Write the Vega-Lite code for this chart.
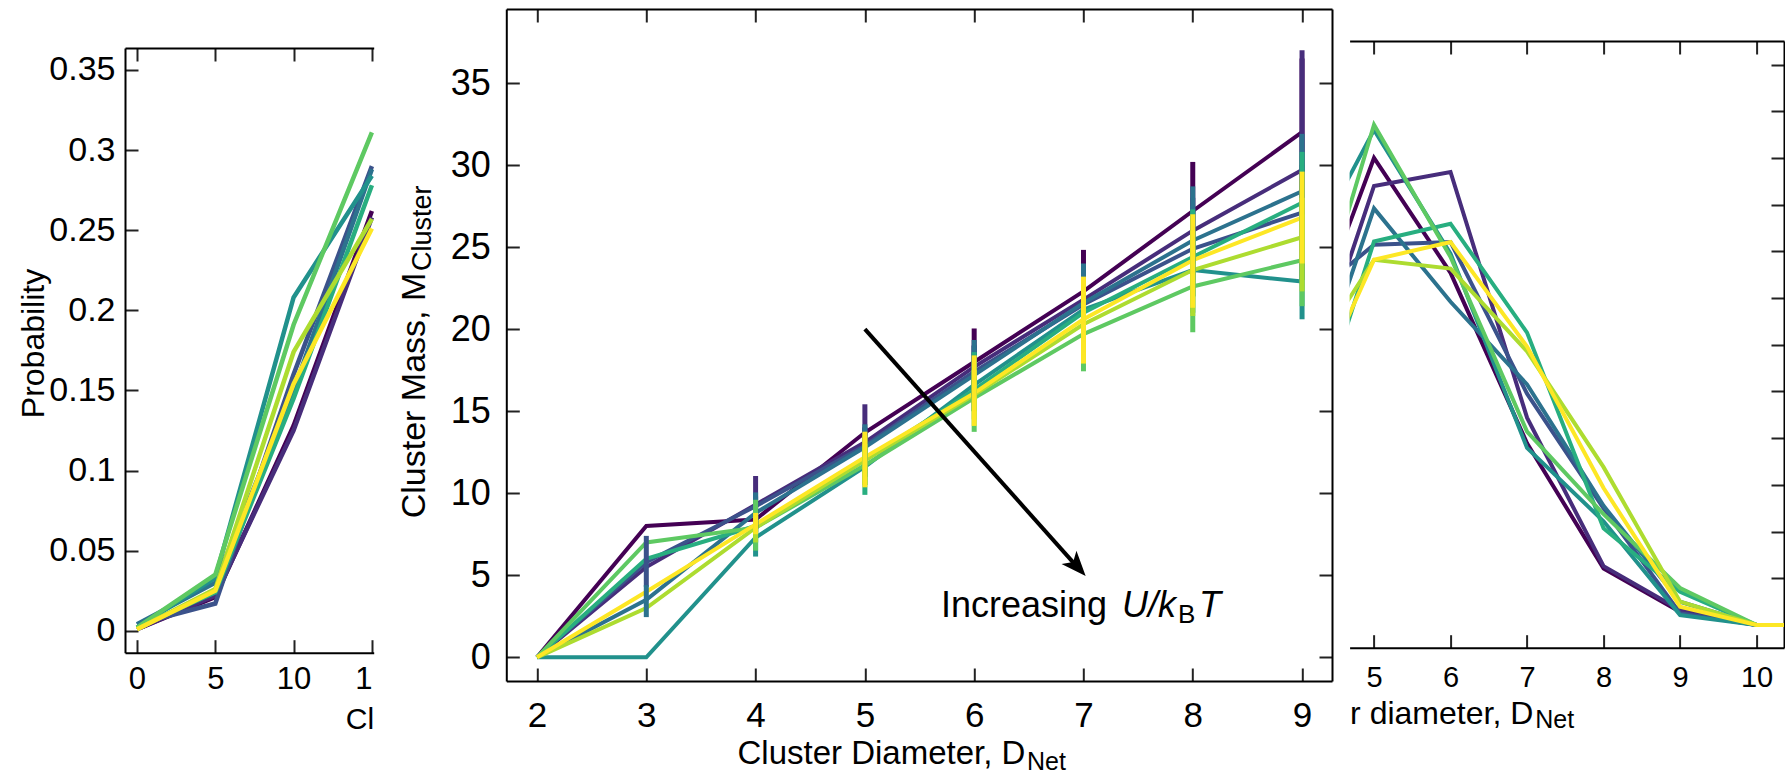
{
  "$schema": "https://vega.github.io/schema/vega-lite/v6.json",
  "padding": {"left": 17, "top": 8, "right": 0, "bottom": 0},
  "spacing": 16.3,
  "config": {
    "view": {"stroke": null},
    "font": "Liberation Sans",
    "axis": {
      "domainColor": "black", "domainWidth": 2, "tickColor": "#222", "tickWidth": 2, "tickSize": -13,
      "labelFont": "Liberation Sans", "titleFont": "Liberation Sans", "labelColor": "black", "titleColor": "black",
      "titleFontWeight": "normal", "labelFlush": false, "labelOverlap": false, "grid": false
    }
  },
  "datasets": {
    "left": [
      {"run": "U1", "x": 0, "p": 0.001}, {"run": "U1", "x": 5, "p": 0.021}, {"run": "U1", "x": 10, "p": 0.128}, {"run": "U1", "x": 15, "p": 0.262},
      {"run": "U2", "x": 0, "p": 0.001}, {"run": "U2", "x": 5, "p": 0.022}, {"run": "U2", "x": 10, "p": 0.125}, {"run": "U2", "x": 15, "p": 0.258},
      {"run": "U3", "x": 0, "p": 0.004}, {"run": "U3", "x": 5, "p": 0.017}, {"run": "U3", "x": 10, "p": 0.160}, {"run": "U3", "x": 15, "p": 0.290},
      {"run": "U4", "x": 0, "p": 0.004}, {"run": "U4", "x": 5, "p": 0.030}, {"run": "U4", "x": 10, "p": 0.150}, {"run": "U4", "x": 15, "p": 0.288},
      {"run": "U5", "x": 0, "p": 0.002}, {"run": "U5", "x": 5, "p": 0.033}, {"run": "U5", "x": 10, "p": 0.208}, {"run": "U5", "x": 15, "p": 0.284},
      {"run": "U6", "x": 0, "p": 0.002}, {"run": "U6", "x": 5, "p": 0.024}, {"run": "U6", "x": 10, "p": 0.145}, {"run": "U6", "x": 15, "p": 0.278},
      {"run": "U7", "x": 0, "p": 0.002}, {"run": "U7", "x": 5, "p": 0.035}, {"run": "U7", "x": 10, "p": 0.191}, {"run": "U7", "x": 15, "p": 0.311},
      {"run": "U8", "x": 0, "p": 0.001}, {"run": "U8", "x": 5, "p": 0.026}, {"run": "U8", "x": 10, "p": 0.174}, {"run": "U8", "x": 15, "p": 0.257},
      {"run": "U9", "x": 0, "p": 0.001}, {"run": "U9", "x": 5, "p": 0.025}, {"run": "U9", "x": 10, "p": 0.154}, {"run": "U9", "x": 15, "p": 0.251}
    ],
    "mid": [
      {"run": "U1", "d": 2, "m": 0, "lo": 0, "hi": 0}, {"run": "U1", "d": 3, "m": 8.0, "lo": 8.0, "hi": 8.0}, {"run": "U1", "d": 4, "m": 8.4, "lo": 7.8, "hi": 9.0}, {"run": "U1", "d": 5, "m": 13.7, "lo": 12, "hi": 14}, {"run": "U1", "d": 6, "m": 18.0, "lo": 16, "hi": 20.04}, {"run": "U1", "d": 7, "m": 22.3, "lo": 20, "hi": 24.83}, {"run": "U1", "d": 8, "m": 27.2, "lo": 24, "hi": 30.19}, {"run": "U1", "d": 9, "m": 32.0, "lo": 28, "hi": 36.5},
      {"run": "U2", "d": 2, "m": 0, "lo": 0, "hi": 0}, {"run": "U2", "d": 3, "m": 5.5, "lo": 5.5, "hi": 5.5}, {"run": "U2", "d": 4, "m": 9.3, "lo": 7.6, "hi": 11.05}, {"run": "U2", "d": 5, "m": 13.1, "lo": 11, "hi": 15.42}, {"run": "U2", "d": 6, "m": 17.7, "lo": 16, "hi": 19}, {"run": "U2", "d": 7, "m": 21.8, "lo": 20, "hi": 23.5}, {"run": "U2", "d": 8, "m": 26.0, "lo": 23, "hi": 28}, {"run": "U2", "d": 9, "m": 29.7, "lo": 23, "hi": 37.0},
      {"run": "U3", "d": 2, "m": 0, "lo": 0, "hi": 0}, {"run": "U3", "d": 3, "m": 5.8, "lo": 4.3, "hi": 7.4}, {"run": "U3", "d": 4, "m": 9.2, "lo": 7.8, "hi": 9.8}, {"run": "U3", "d": 5, "m": 12.9, "lo": 11, "hi": 14}, {"run": "U3", "d": 6, "m": 17.4, "lo": 15.5, "hi": 19}, {"run": "U3", "d": 7, "m": 21.5, "lo": 19.5, "hi": 23.5}, {"run": "U3", "d": 8, "m": 24.9, "lo": 22, "hi": 27.5}, {"run": "U3", "d": 9, "m": 27.1, "lo": 23, "hi": 30},
      {"run": "U4", "d": 2, "m": 0, "lo": 0, "hi": 0}, {"run": "U4", "d": 3, "m": 3.5, "lo": 2.45, "hi": 4.4}, {"run": "U4", "d": 4, "m": 8.8, "lo": 7.6, "hi": 10.05}, {"run": "U4", "d": 5, "m": 12.8, "lo": 11, "hi": 14.2}, {"run": "U4", "d": 6, "m": 17.2, "lo": 15, "hi": 19.34}, {"run": "U4", "d": 7, "m": 21.6, "lo": 19, "hi": 24.0}, {"run": "U4", "d": 8, "m": 25.4, "lo": 22, "hi": 28.7}, {"run": "U4", "d": 9, "m": 28.4, "lo": 25, "hi": 31.9},
      {"run": "U5", "d": 2, "m": 0, "lo": 0, "hi": 0}, {"run": "U5", "d": 3, "m": 0, "lo": 0, "hi": 0}, {"run": "U5", "d": 4, "m": 7.3, "lo": 6.14, "hi": 9.0}, {"run": "U5", "d": 5, "m": 11.6, "lo": 10.5, "hi": 13}, {"run": "U5", "d": 6, "m": 16.6, "lo": 15, "hi": 18}, {"run": "U5", "d": 7, "m": 21.2, "lo": 19, "hi": 23}, {"run": "U5", "d": 8, "m": 23.6, "lo": 21, "hi": 26}, {"run": "U5", "d": 9, "m": 22.9, "lo": 20.6, "hi": 25},
      {"run": "U6", "d": 2, "m": 0, "lo": 0, "hi": 0}, {"run": "U6", "d": 3, "m": 6.0, "lo": 6.0, "hi": 6.0}, {"run": "U6", "d": 4, "m": 8.0, "lo": 7, "hi": 9}, {"run": "U6", "d": 5, "m": 12.0, "lo": 9.9, "hi": 13}, {"run": "U6", "d": 6, "m": 16.3, "lo": 15, "hi": 18.6}, {"run": "U6", "d": 7, "m": 21.0, "lo": 19, "hi": 23}, {"run": "U6", "d": 8, "m": 24.4, "lo": 22, "hi": 27.3}, {"run": "U6", "d": 9, "m": 27.7, "lo": 25, "hi": 30.8},
      {"run": "U7", "d": 2, "m": 0, "lo": 0, "hi": 0}, {"run": "U7", "d": 3, "m": 7.0, "lo": 7.0, "hi": 7.0}, {"run": "U7", "d": 4, "m": 7.9, "lo": 6.5, "hi": 9.6}, {"run": "U7", "d": 5, "m": 11.7, "lo": 10.5, "hi": 13}, {"run": "U7", "d": 6, "m": 15.8, "lo": 13.74, "hi": 17.5}, {"run": "U7", "d": 7, "m": 19.7, "lo": 17.43, "hi": 22}, {"run": "U7", "d": 8, "m": 22.6, "lo": 19.81, "hi": 25.5}, {"run": "U7", "d": 9, "m": 24.2, "lo": 21.4, "hi": 27},
      {"run": "U8", "d": 2, "m": 0, "lo": 0, "hi": 0}, {"run": "U8", "d": 3, "m": 3.0, "lo": 3.0, "hi": 3.0}, {"run": "U8", "d": 4, "m": 7.9, "lo": 7.0, "hi": 8.6}, {"run": "U8", "d": 5, "m": 12.0, "lo": 10.5, "hi": 13.5}, {"run": "U8", "d": 6, "m": 16.0, "lo": 14.5, "hi": 17.5}, {"run": "U8", "d": 7, "m": 20.3, "lo": 18.5, "hi": 22.5}, {"run": "U8", "d": 8, "m": 23.6, "lo": 20.8, "hi": 26}, {"run": "U8", "d": 9, "m": 25.6, "lo": 22.3, "hi": 28},
      {"run": "U9", "d": 2, "m": 0, "lo": 0, "hi": 0}, {"run": "U9", "d": 3, "m": 4.0, "lo": 4.0, "hi": 4.0}, {"run": "U9", "d": 4, "m": 8.1, "lo": 7.5, "hi": 8.8}, {"run": "U9", "d": 5, "m": 12.2, "lo": 10.36, "hi": 13.75}, {"run": "U9", "d": 6, "m": 16.1, "lo": 14.1, "hi": 18.4}, {"run": "U9", "d": 7, "m": 20.6, "lo": 17.9, "hi": 23.2}, {"run": "U9", "d": 8, "m": 24.2, "lo": 21.3, "hi": 27.0}, {"run": "U9", "d": 9, "m": 26.8, "lo": 24.0, "hi": 29.6}
    ],
    "right": [
      {"run": "U1", "d": 4, "p": 0.14}, {"run": "U1", "d": 5, "p": 0.250}, {"run": "U1", "d": 6, "p": 0.1885}, {"run": "U1", "d": 7, "p": 0.0973}, {"run": "U1", "d": 8, "p": 0.0303}, {"run": "U1", "d": 9, "p": 0.007}, {"run": "U1", "d": 10, "p": 0}, {"run": "U1", "d": 11, "p": 0},
      {"run": "U2", "d": 4, "p": 0.1125}, {"run": "U2", "d": 5, "p": 0.235}, {"run": "U2", "d": 6, "p": 0.2425}, {"run": "U2", "d": 7, "p": 0.111}, {"run": "U2", "d": 8, "p": 0.0315}, {"run": "U2", "d": 9, "p": 0.008}, {"run": "U2", "d": 10, "p": 0}, {"run": "U2", "d": 11, "p": 0},
      {"run": "U3", "d": 4, "p": 0.17}, {"run": "U3", "d": 5, "p": 0.2035}, {"run": "U3", "d": 6, "p": 0.205}, {"run": "U3", "d": 7, "p": 0.1238}, {"run": "U3", "d": 8, "p": 0.0625}, {"run": "U3", "d": 9, "p": 0.0063}, {"run": "U3", "d": 10, "p": 0}, {"run": "U3", "d": 11, "p": 0},
      {"run": "U4", "d": 4, "p": 0.1025}, {"run": "U4", "d": 5, "p": 0.223}, {"run": "U4", "d": 6, "p": 0.173}, {"run": "U4", "d": 7, "p": 0.1288}, {"run": "U4", "d": 8, "p": 0.0638}, {"run": "U4", "d": 9, "p": 0.0125}, {"run": "U4", "d": 10, "p": 0}, {"run": "U4", "d": 11, "p": 0},
      {"run": "U5", "d": 4, "p": 0.1875}, {"run": "U5", "d": 5, "p": 0.265}, {"run": "U5", "d": 6, "p": 0.1988}, {"run": "U5", "d": 7, "p": 0.0948}, {"run": "U5", "d": 8, "p": 0.0555}, {"run": "U5", "d": 9, "p": 0.0053}, {"run": "U5", "d": 10, "p": 0}, {"run": "U5", "d": 11, "p": 0},
      {"run": "U6", "d": 4, "p": 0.0775}, {"run": "U6", "d": 5, "p": 0.2053}, {"run": "U6", "d": 6, "p": 0.2148}, {"run": "U6", "d": 7, "p": 0.1565}, {"run": "U6", "d": 8, "p": 0.0518}, {"run": "U6", "d": 9, "p": 0.0178}, {"run": "U6", "d": 10, "p": 0}, {"run": "U6", "d": 11, "p": 0},
      {"run": "U7", "d": 4, "p": 0.13}, {"run": "U7", "d": 5, "p": 0.2678}, {"run": "U7", "d": 6, "p": 0.197}, {"run": "U7", "d": 7, "p": 0.1035}, {"run": "U7", "d": 8, "p": 0.0593}, {"run": "U7", "d": 9, "p": 0.0198}, {"run": "U7", "d": 10, "p": 0}, {"run": "U7", "d": 11, "p": 0},
      {"run": "U8", "d": 4, "p": 0.1315}, {"run": "U8", "d": 5, "p": 0.1955}, {"run": "U8", "d": 6, "p": 0.1908}, {"run": "U8", "d": 7, "p": 0.1465}, {"run": "U8", "d": 8, "p": 0.0845}, {"run": "U8", "d": 9, "p": 0.0125}, {"run": "U8", "d": 10, "p": 0}, {"run": "U8", "d": 11, "p": 0},
      {"run": "U9", "d": 4, "p": 0.105}, {"run": "U9", "d": 5, "p": 0.1955}, {"run": "U9", "d": 6, "p": 0.205}, {"run": "U9", "d": 7, "p": 0.149}, {"run": "U9", "d": 8, "p": 0.0733}, {"run": "U9", "d": 9, "p": 0.0098}, {"run": "U9", "d": 10, "p": 0}, {"run": "U9", "d": 11, "p": 0}
    ]
  },
  "hconcat": [
    {
      "width": 255.3,
      "height": 643.7,
      "data": {"name": "left"},
      "layer": [
        {
          "mark": {"type": "line", "strokeWidth": 4.5, "strokeJoin": "miter", "clip": true},
          "encoding": {
            "x": {"field": "x", "type": "quantitative",
              "scale": {"domain": [-0.766, 15.115], "range": [0, 248.7], "nice": false, "zero": false},
              "axis": {"orient": "bottom", "values": [0, 5, 10, 15], "labelFontSize": 31, "labelPadding": 25,
                "labelExpr": "datum.value == 15 ? '1' : datum.label",
                "labelAlign": {"condition": {"test": "datum.value == 15", "value": "right"}, "value": "center"},
                "title": "Cl", "titleFontSize": 30, "titleAlign": "right", "titleBaseline": "alphabetic", "titleX": 248.7, "titleY": 75.6}},
            "y": {"field": "p", "type": "quantitative",
              "scale": {"domain": [-0.0137, 0.3637], "range": [643.7, 39], "nice": false, "zero": false},
              "axis": {"orient": "left", "values": [0, 0.05, 0.1, 0.15, 0.2, 0.25, 0.3, 0.35], "format": "~g",
                "labelFontSize": 34, "labelPadding": 23, "title": "Probability", "titleFontSize": 32,
                "titleBaseline": "alphabetic", "titleX": -81.5, "titleY": 334}},
            "color": {"field": "run", "type": "nominal",
              "scale": {"domain": ["U1", "U2", "U3", "U4", "U5", "U6", "U7", "U8", "U9"],
                "range": ["#440154", "#472d7b", "#3b528b", "#2c728e", "#21918c", "#28ae80", "#5ec962", "#addc30", "#fde725"]},
              "legend": null}
          }
        },
        {
          "mark": {"type": "line", "opacity": 0, "clip": true},
          "encoding": {
            "x": {"field": "x", "type": "quantitative", "axis": {"orient": "top", "values": [0, 5, 10, 15], "labels": false, "title": null, "offset": -39}},
            "y": {"field": "p", "type": "quantitative", "axis": null},
            "detail": {"field": "run"}
          }
        }
      ],
      "resolve": {"axis": {"x": "independent", "y": "independent"}}
    },
    {
      "width": 825.7,
      "height": 672,
      "data": {"name": "mid"},
      "layer": [
        {
          "mark": {"type": "line", "strokeWidth": 4, "strokeJoin": "miter"},
          "encoding": {
            "x": {"field": "d", "type": "quantitative",
              "scale": {"domain": [1.719, 9.274], "nice": false, "zero": false},
              "axis": {"orient": "bottom", "values": [2, 3, 4, 5, 6, 7, 8, 9], "labelFontSize": 35, "labelPadding": 30,
                "title": "Cluster Diameter, D", "titleFontSize": 33, "titleAlign": "left", "titleBaseline": "alphabetic", "titleX": 230.7, "titleY": 82}},
            "y": {"field": "m", "type": "quantitative",
              "scale": {"domain": [-1.444, 39.51], "nice": false, "zero": false},
              "axis": {"orient": "left", "values": [0, 5, 10, 15, 20, 25, 30, 35], "labelFontSize": 36, "labelPadding": 29,
                "title": "Cluster Mass, M", "titleFontSize": 34, "titleBaseline": "alphabetic", "titleX": -81.5, "titleY": 386}},
            "color": {"field": "run", "type": "nominal",
              "scale": {"domain": ["U1", "U2", "U3", "U4", "U5", "U6", "U7", "U8", "U9"],
                "range": ["#440154", "#472d7b", "#3b528b", "#2c728e", "#21918c", "#28ae80", "#5ec962", "#addc30", "#fde725"]},
              "legend": null}
          }
        },
        {
          "mark": {"type": "rule", "strokeWidth": 5, "strokeCap": "butt"},
          "encoding": {
            "x": {"field": "d", "type": "quantitative", "axis": {"orient": "top", "values": [2, 3, 4, 5, 6, 7, 8, 9], "labels": false, "title": null}},
            "y": {"field": "lo", "type": "quantitative", "axis": {"orient": "right", "values": [0, 5, 10, 15, 20, 25, 30, 35], "labels": false, "title": null}},
            "y2": {"field": "hi"},
            "color": {"field": "run", "type": "nominal", "legend": null}
          }
        },
        {
          "data": {"values": [{"note": "arrow"}]},
          "mark": {"type": "rule", "strokeWidth": 4, "color": "black", "strokeCap": "butt"},
          "encoding": {
            "x": {"datum": 5.0, "type": "quantitative", "axis": null},
            "y": {"datum": 20.0, "type": "quantitative", "axis": null},
            "x2": {"datum": 6.92},
            "y2": {"datum": 5.68}
          }
        },
        {
          "data": {"values": [{"note": "arrowhead"}]},
          "mark": {"type": "point", "shape": "M0,0L0.8,2L0,1.5L-0.8,2Z", "filled": true, "color": "black", "opacity": 1, "size": 625, "angle": 138.2},
          "encoding": {
            "x": {"datum": 7.02, "type": "quantitative", "axis": null},
            "y": {"datum": 4.95, "type": "quantitative", "axis": null}
          }
        },
        {
          "data": {"values": [{"t": "Increasing"}]},
          "mark": {"type": "text", "fontSize": 36, "align": "left", "baseline": "alphabetic", "color": "black"},
          "encoding": {
            "x": {"datum": 5.696, "type": "quantitative", "axis": null},
            "y": {"datum": 2.456, "type": "quantitative", "axis": null},
            "text": {"field": "t"}
          }
        },
        {
          "data": {"values": [{"t": "U/k"}]},
          "mark": {"type": "text", "fontSize": 36, "fontStyle": "italic", "align": "left", "baseline": "alphabetic", "color": "black"},
          "encoding": {
            "x": {"datum": 7.352, "type": "quantitative", "axis": null},
            "y": {"datum": 2.456, "type": "quantitative", "axis": null},
            "text": {"field": "t"}
          }
        },
        {
          "data": {"values": [{"t": "B"}]},
          "mark": {"type": "text", "fontSize": 26, "align": "left", "baseline": "alphabetic", "color": "black"},
          "encoding": {
            "x": {"datum": 7.865, "type": "quantitative", "axis": null},
            "y": {"datum": 2.07, "type": "quantitative", "axis": null},
            "text": {"field": "t"}
          }
        },
        {
          "data": {"values": [{"t": "T"}]},
          "mark": {"type": "text", "fontSize": 36, "fontStyle": "italic", "align": "left", "baseline": "alphabetic", "color": "black"},
          "encoding": {
            "x": {"datum": 8.056, "type": "quantitative", "axis": null},
            "y": {"datum": 2.456, "type": "quantitative", "axis": null},
            "text": {"field": "t"}
          }
        },
        {
          "data": {"values": [{"t": "Cluster"}]},
          "mark": {"type": "text", "fontSize": 27, "angle": -90, "align": "left", "baseline": "alphabetic", "color": "black"},
          "encoding": {
            "x": {"datum": 1.03, "type": "quantitative", "axis": null},
            "y": {"datum": 23.54, "type": "quantitative", "axis": null},
            "text": {"field": "t"}
          }
        },
        {
          "data": {"values": [{"t": "Net"}]},
          "mark": {"type": "text", "fontSize": 25, "align": "left", "baseline": "alphabetic", "color": "black"},
          "encoding": {
            "x": {"datum": 6.483, "type": "quantitative", "axis": null},
            "y": {"datum": -6.87, "type": "quantitative", "axis": null},
            "text": {"field": "t"}
          }
        }
      ],
      "resolve": {"axis": {"x": "independent", "y": "independent"}}
    },
    {
      "width": 434.4,
      "height": 638.7,
      "data": {"name": "right"},
      "layer": [
        {
          "mark": {"type": "line", "strokeWidth": 4, "strokeJoin": "miter", "clip": true},
          "encoding": {
            "x": {"field": "d", "type": "quantitative",
              "scale": {"domain": [4.681, 10.358], "nice": false, "zero": false},
              "axis": {"orient": "bottom", "values": [5, 6, 7, 8, 9, 10], "labelFontSize": 29, "labelPadding": 29,
                "title": "r diameter, D", "titleFontSize": 32, "titleAlign": "left", "titleBaseline": "alphabetic", "titleX": 0, "titleY": 75.6}},
            "y": {"field": "p", "type": "quantitative",
              "scale": {"domain": [-0.01215, 0.3126], "range": [638.7, 32], "nice": false, "zero": false},
              "axis": null},
            "color": {"field": "run", "type": "nominal",
              "scale": {"domain": ["U1", "U2", "U3", "U4", "U5", "U6", "U7", "U8", "U9"],
                "range": ["#440154", "#472d7b", "#3b528b", "#2c728e", "#21918c", "#28ae80", "#5ec962", "#addc30", "#fde725"]},
              "legend": null}
          }
        },
        {
          "mark": {"type": "line", "opacity": 0, "clip": true},
          "encoding": {
            "x": {"field": "d", "type": "quantitative", "axis": {"orient": "top", "values": [5, 6, 7, 8, 9, 10], "labels": false, "title": null, "offset": -32}},
            "y": {"field": "p", "type": "quantitative", "axis": {"orient": "right", "values": [0, 0.025, 0.05, 0.075, 0.1, 0.125, 0.15, 0.175, 0.2, 0.225, 0.25, 0.275, 0.3], "labels": false, "title": null}},
            "detail": {"field": "run"}
          }
        },
        {
          "data": {"values": [{"t": "Net"}]},
          "mark": {"type": "text", "fontSize": 25, "align": "left", "baseline": "alphabetic", "color": "black"},
          "encoding": {
            "x": {"datum": 7.108, "type": "quantitative", "axis": null},
            "y": {"datum": -0.0553, "type": "quantitative", "axis": null},
            "text": {"field": "t"}
          }
        }
      ],
      "resolve": {"axis": {"x": "independent", "y": "independent"}}
    }
  ]
}
